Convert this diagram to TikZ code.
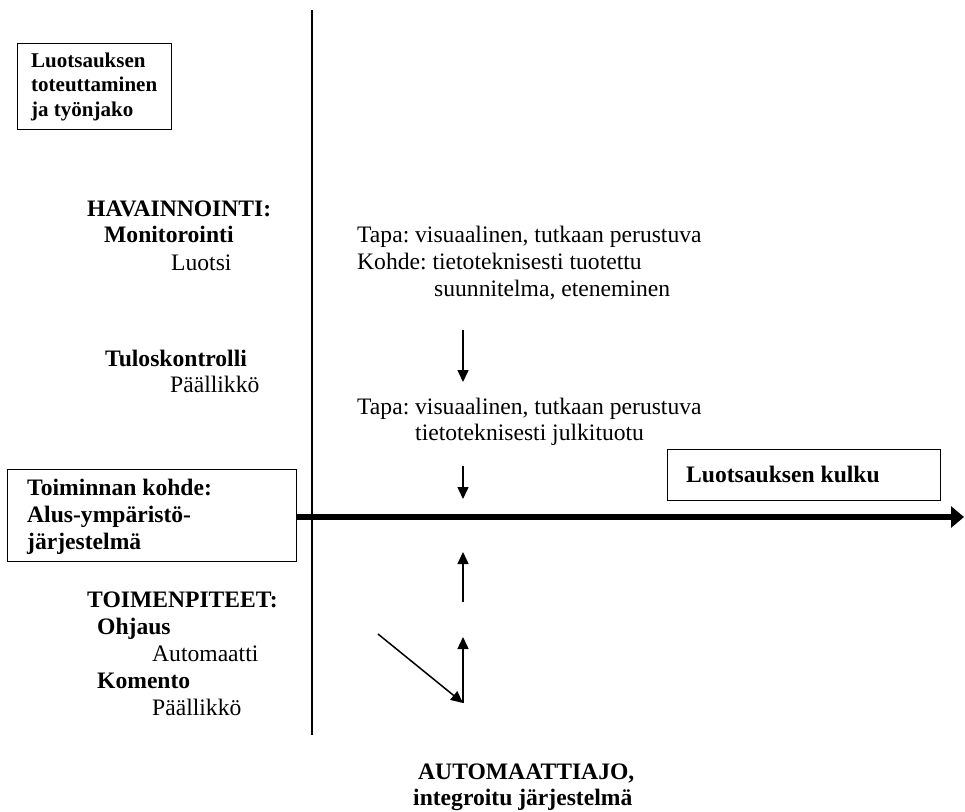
\documentclass[tikz,border=0pt]{standalone}
\usepackage{fontspec}
\setmainfont{Liberation Serif}
\usetikzlibrary{arrows.meta}
\frenchspacing
\begin{document}
\begin{tikzpicture}[x=1pt,y=-1pt,
  txt/.style={anchor=base west, inner sep=0pt, font=\fontsize{23.6}{27}\selectfont},
  btxt/.style={anchor=base west, inner sep=0pt, font=\fontsize{23.6}{27}\selectfont\bfseries},
  smallb/.style={anchor=base west, inner sep=0pt, font=\fontsize{21}{24}\selectfont\bfseries},
  framebox/.style={draw, line width=1.3pt, inner sep=0pt, anchor=north west},
  flow/.style={line width=1.5pt, -{Triangle[length=12pt,width=11pt]}},
  axis/.style={line width=2.2pt},
  mainflow/.style={line width=5.5pt, -{Triangle[length=13pt,width=21pt]}}]
\useasboundingbox (0,0) rectangle (965,811);

% frame: split between roles and activities
\coordinate (vtop) at (312,10);
\coordinate (vbot) at (312,735);
\draw[axis] (vtop) -- (vbot);

% heading box, upper left
\node[framebox, minimum width=154pt, minimum height=86pt] (headbox) at (17,43) {};
\node[smallb] (h1) at (31,67) {Luotsauksen};
\node[smallb] (h2) at (31,91) {toteuttaminen};
\node[smallb] (h3) at (31,116) {ja työnjako};

% observation
\node[btxt] (hav) at (87,216) {HAVAINNOINTI:};
\node[btxt] (mon) at (104,242) {Monitorointi};
\node[txt] (luotsi) at (171,270) {Luotsi};

\node[txt] (tapa1) at (357,242) {Tapa: visuaalinen, tutkaan perustuva};
\node[txt] (kohde) at (357,269) {Kohde: tietoteknisesti tuotettu};
\node[txt] (suunn) at (434,296) {suunnitelma, eteneminen};

\coordinate (a1s) at (463,330);
\coordinate (a1e) at (463,382);
\draw[flow] (a1s) -- (a1e);

\node[btxt] (tulos) at (105,366) {Tuloskontrolli};
\node[txt] (pall1) at (170,392) {Päällikkö};

\node[txt] (tapa2) at (357,414) {Tapa: visuaalinen, tutkaan perustuva};
\node[txt] (tieto) at (415,440) {tietoteknisesti julkituotu};

\coordinate (a2s) at (463,466);
\coordinate (a2e) at (463,499);
\draw[flow] (a2s) -- (a2e);

% course of pilotage
\node[framebox, minimum width=273pt, minimum height=51pt] (kulkubox) at (667,449) {};
\node[btxt] (kulku) at (686,482) {Luotsauksen kulku};

\node[framebox, minimum width=289pt, minimum height=92pt] (kohdebox) at (7,469) {};
\node[btxt] (k1) at (27,495) {Toiminnan kohde:};
\node[btxt] (k2) at (27,522) {Alus-ympäristö-};
\node[btxt] (k3) at (27,549) {järjestelmä};

\coordinate (mainend) at (964,517);
\draw[mainflow] (kohdebox.east |- mainend) -- (mainend);

% measures
\coordinate (a3s) at (463,602);
\coordinate (a3e) at (463,552);
\draw[flow] (a3s) -- (a3e);

\node[btxt] (toim) at (87,607) {TOIMENPITEET:};
\node[btxt] (ohj) at (97,634) {Ohjaus};
\node[txt] (auto) at (152,661) {Automaatti};
\node[btxt] (kom) at (97,688) {Komento};
\node[txt] (pall2) at (152,715) {Päällikkö};

\coordinate (ds) at (378,634);
\coordinate (dj) at (463,703);
\coordinate (a4e) at (463,637);
\draw[flow] (ds) -- (dj);
\draw[flow] (dj) -- (a4e);

\node[btxt] (ajo1) at (418,779) {AUTOMAATTIAJO,};
\node[btxt] (ajo2) at (413,805) {integroitu järjestelmä};
\end{tikzpicture}
\end{document}
